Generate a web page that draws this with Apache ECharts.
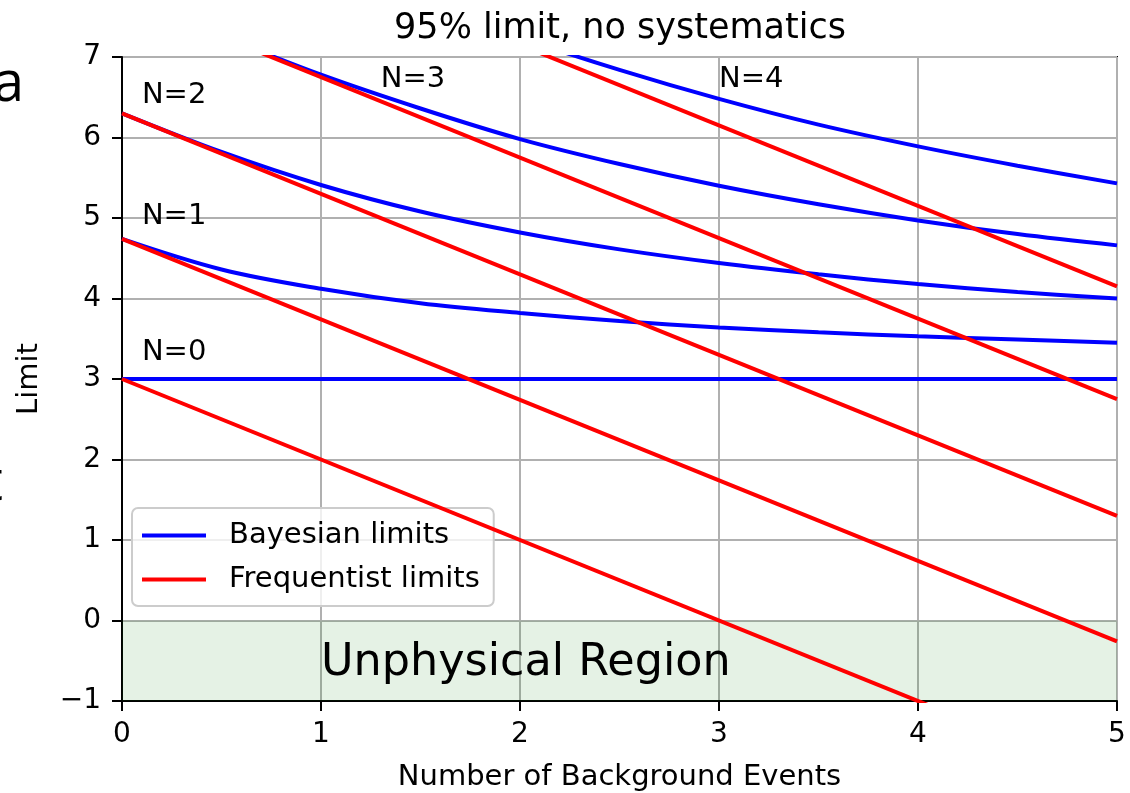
<!DOCTYPE html>
<html><head><meta charset="utf-8">
<script src="https://cdn.jsdelivr.net/npm/echarts@6/dist/echarts.min.js"></script>
<style>html,body{margin:0;padding:0;background:#fff}#c{width:1130px;height:793px}</style>
</head><body><div id="c"></div>
<script>
// ---- data ----
const background = [0, 0.5, 1, 1.5, 2, 2.5, 3, 3.5, 4, 4.5, 5];
const bayesN0 = [3.00, 3.00, 3.00, 3.00, 3.00, 3.00, 3.00, 3.00, 3.00, 3.00, 3.00];
const bayesN1 = [4.74, 4.36, 4.12, 3.94, 3.82, 3.72, 3.64, 3.58, 3.53, 3.49, 3.45];
const bayesN2 = [6.30, 5.82, 5.41, 5.08, 4.82, 4.61, 4.44, 4.30, 4.18, 4.08, 4.00];
const bayesN3 = [7.75, 7.26, 6.78, 6.36, 5.98, 5.67, 5.40, 5.17, 4.97, 4.80, 4.66];
const bayesN4 = [9.15, 8.65, 8.16, 7.68, 7.24, 6.84, 6.48, 6.16, 5.89, 5.65, 5.43];
const freqX = [0, 5];
const freqN0 = [3.00, -2.00];
const freqN1 = [4.74, -0.26];
const freqN2 = [6.30, 1.30];
const freqN3 = [7.75, 2.75];
const freqN4 = [9.15, 4.15];
const labelText = ['N=0', 'N=1', 'N=2', 'N=3', 'N=4'];
const labelX = [0.1, 0.1, 0.1, 1.3, 3.0];
const labelY = [3.2, 4.9, 6.4, 6.6, 6.6];
const regionText = ['Unphysical Region'];
const regionX = [1.0];
const regionY = [-0.72];
const unphysical = [-1, 0];
const xRange = [0, 5];
const yRange = [-1, 7];

// ---- helpers ----
const pairs = (xs, ys) => xs.map((x, i) => [x, ys[i]]);
const FONT = 'DejaVu Sans';
const BLUE = '#0000ff', RED = '#ff0000';

const series = [];
series.push({
  type: 'line', name: 'region', data: [], silent: true, z: 1,
  markArea: {
    silent: true,
    itemStyle: { color: 'rgba(0,128,0,0.1)' },
    data: [[{ xAxis: xRange[0], yAxis: unphysical[0] }, { xAxis: xRange[1], yAxis: unphysical[1] }]]
  }
});
[bayesN0, bayesN1, bayesN2, bayesN3, bayesN4].forEach(arr => series.push({
  type: 'line', name: 'Bayesian limits', data: pairs(background, arr),
  smooth: 0.35, symbol: 'none', z: 3, clip: true,
  lineStyle: { color: BLUE, width: 4 }, itemStyle: { color: BLUE }
}));
[freqN0, freqN1, freqN2, freqN3, freqN4].forEach(arr => series.push({
  type: 'line', name: 'Frequentist limits', data: pairs(freqX, arr),
  symbol: 'none', z: 4, clip: true,
  lineStyle: { color: RED, width: 4 }, itemStyle: { color: RED }
}));
series.push({
  type: 'scatter', name: 'labels', symbolSize: 0, z: 5, silent: true, clip: false,
  itemStyle: { opacity: 1 },
  data: labelText.map((t, i) => ({ value: [labelX[i], labelY[i]], name: t })),
  label: { show: true, position: 'right', distance: 0, offset: [0, -10],
    formatter: p => p.name, color: '#000', opacity: 1, fontFamily: FONT, fontSize: 29, lineHeight: 29 }
});
series.push({
  type: 'scatter', name: 'region label', symbolSize: 0, z: 5, silent: true, clip: false,
  itemStyle: { opacity: 1 },
  data: regionText.map((t, i) => ({ value: [regionX[i], regionY[i]], name: t })),
  label: { show: true, position: 'right', distance: 0, offset: [0, -15],
    formatter: p => p.name, color: '#000', opacity: 1, fontFamily: FONT, fontSize: 44.5, lineHeight: 44 }
});

const chart = echarts.init(document.getElementById('c'), null, { renderer: 'canvas' });
chart.setOption({
  animation: false,
  backgroundColor: '#fff',
  textStyle: { fontFamily: FONT },
  grid: { left: 122, right: 13, top: 57, bottom: 92, containLabel: false, outerBoundsMode: 'none',
    show: true, borderColor: '#000', borderWidth: 2, backgroundColor: 'transparent' },
  graphic: [
    { type: 'text', x: 620, y: 29, z: 10, style: { text: '95% limit, no systematics', fontFamily: FONT, fontSize: 35, fill: '#000', align: 'center', verticalAlign: 'middle' } },
    { type: 'text', x: -7, y: 85, z: 10, style: { text: 'a', fontFamily: 'Open Sans', fontSize: 56, fill: '#000', align: 'left', verticalAlign: 'middle' } },
    { type: 'text', x: -17, y: 484, z: 10, style: { text: 't', fontFamily: 'Open Sans', fontSize: 56, fill: '#000', align: 'left', verticalAlign: 'middle' } }
  ],
  legend: {
    data: ['Bayesian limits', 'Frequentist limits'],
    orient: 'vertical', left: 132, top: 508,
    padding: [13, 14, 12, 10], itemGap: 15,
    itemWidth: 64, itemHeight: 4, icon: 'rect',
    backgroundColor: 'rgba(255,255,255,0.8)', borderColor: '#cccccc', borderWidth: 2, borderRadius: 6,
    selectedMode: false,
    textStyle: { fontFamily: FONT, fontSize: 29, lineHeight: 29, color: '#000', padding: [0, 0, 0, 18] }
  },
  xAxis: {
    type: 'value', min: xRange[0], max: xRange[1], interval: 1,
    name: 'Number of Background Events', nameLocation: 'middle', nameGap: 62,
    nameTextStyle: { fontFamily: FONT, fontSize: 29, lineHeight: 29, color: '#000' },
    axisLine: { show: true, onZero: false, lineStyle: { color: '#000', width: 2 } },
    axisTick: { show: true, length: 10, lineStyle: { color: '#000', width: 2 } },
    axisLabel: { margin: 20, fontFamily: FONT, fontSize: 28, lineHeight: 28, color: '#000' },
    splitLine: { show: true, lineStyle: { color: '#b0b0b0', width: 2 } }
  },
  yAxis: {
    type: 'value', min: yRange[0], max: yRange[1], interval: 1,
    name: 'Limit', nameLocation: 'middle', nameGap: 78, nameRotate: 90,
    nameTextStyle: { fontFamily: FONT, fontSize: 29, lineHeight: 29, color: '#000' },
    axisLine: { show: true, onZero: false, lineStyle: { color: '#000', width: 2 } },
    axisTick: { show: true, length: 10, lineStyle: { color: '#000', width: 2 } },
    axisLabel: { margin: 21, fontFamily: FONT, fontSize: 28, lineHeight: 28, color: '#000',
      formatter: v => String(v).replace('-', '\u2212') },
    splitLine: { show: true, lineStyle: { color: '#b0b0b0', width: 2 } }
  },
  series: series
});
</script></body></html>
